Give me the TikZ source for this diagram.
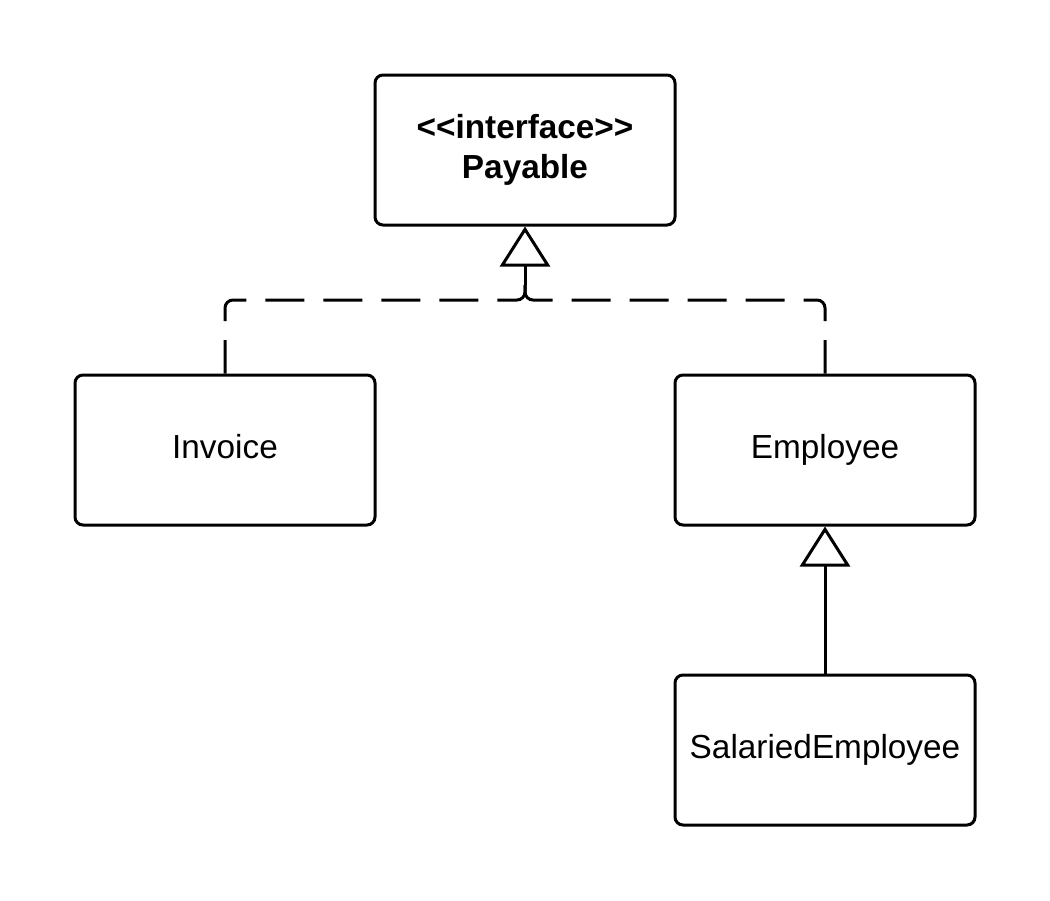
\documentclass[tikz,border=0pt]{standalone}
\usepackage{fontspec}
\setmainfont{Liberation Sans}
\usetikzlibrary{arrows.meta}
\begin{document}
\begin{tikzpicture}[x=0.75pt,y=-0.75pt,
  umlbox/.style={draw, line width=2.25pt, rounded corners=6pt, minimum width=225pt, minimum height=112.5pt, align=center, inner sep=0pt, font=\fontsize{25pt}{30pt}\selectfont},
  realize/.style={line width=2.25pt, dash pattern=on 29.25pt off 14.25pt, rounded corners=6pt},
  inherit/.style={line width=2.25pt, -{Triangle[open, length=30pt, width=37.5pt]}}]
\useasboundingbox (0,0) rectangle (1050,900);
\node[umlbox] (pay) at (525,150) {\textbf{{<}{<}interface{>}{>}}\\\textbf{Payable}};
\node[umlbox] (inv) at (225,450) {Invoice\strut};
\node[umlbox] (emp) at (825,450) {Employee\strut};
\node[umlbox] (sal) at (825,750) {SalariedEmployee\strut};
\coordinate (junc) at (525,285);
\draw[realize] (junc) -- (525,300) -- (225,300) -- (inv.north);
\draw[realize] (junc) -- (525,300) -- (825,300) -- (emp.north);
\draw[inherit] (junc) -- (pay.south);
\draw[inherit] (sal.north) -- (emp.south);
\end{tikzpicture}
\end{document}
